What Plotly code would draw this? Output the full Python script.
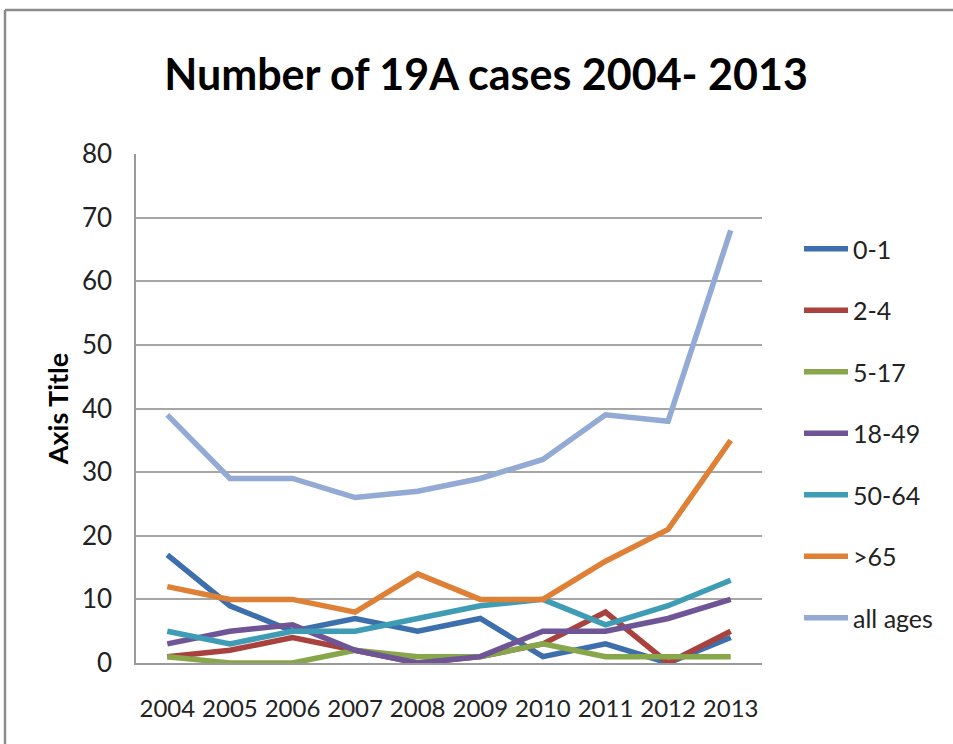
import plotly.graph_objects as go

# Case counts by age group, 2004-2013
years = ["2004", "2005", "2006", "2007", "2008", "2009", "2010", "2011", "2012", "2013"]
age_0_1 = [17, 9, 5, 7, 5, 7, 1, 3, 0, 4]
age_2_4 = [1, 2, 4, 2, 0, 1, 3, 8, 0, 5]
age_5_17 = [1, 0, 0, 2, 1, 1, 3, 1, 1, 1]
age_18_49 = [3, 5, 6, 2, 0, 1, 5, 5, 7, 10]
age_50_64 = [5, 3, 5, 5, 7, 9, 10, 6, 9, 13]
age_65_plus = [12, 10, 10, 8, 14, 10, 10, 16, 21, 35]
all_ages = [39, 29, 29, 26, 27, 29, 32, 39, 38, 68]

series_names = ["0-1", "2-4", "5-17", "18-49", "50-64", ">65", "all ages"]
series_values = [age_0_1, age_2_4, age_5_17, age_18_49, age_50_64, age_65_plus, all_ages]
series_colors = ["#3D6FAD", "#A9423E", "#88A64A", "#6F5596", "#3E9CB4", "#DE8136", "#93AAD4"]

FONT = "Lato, Roboto, sans-serif"

W, H = 953, 744
L, R, T, B = 136, 191, 154, 81
pw, ph = W - L - R, H - T - B

def px_x(px):
    return (px - L) / pw

def px_y(py):
    return (H - B - py) / ph

fig = go.Figure()
for i, (name, vals, col) in enumerate(zip(series_names, series_values, series_colors)):
    fig.add_trace(go.Scatter(
        x=years, y=vals, name=name, mode="lines",
        line=dict(color=col, width=5.5),
        legendgroup=f"g{i}",
    ))

fig.update_layout(
    width=W, height=H,
    margin=dict(l=L, r=R, t=T, b=B, pad=0),
    paper_bgcolor="white", plot_bgcolor="white",
    font=dict(family=FONT, color="#222222", size=25),
    title=dict(
        text="<b>Number of 19A cases 2004- 2013</b>",
        font=dict(family=FONT, size=43, color="black"),
        x=px_x(486), xref="paper", xanchor="center",
        y=1 - 75 / H, yref="container", yanchor="middle",
    ),
    xaxis=dict(
        type="category", range=[-0.5, 9.5],
        showgrid=False, showline=True, linecolor="#9a9a9a", linewidth=1.5,
        ticks="", tickangle=0, tickfont=dict(size=24, color="#222222"),
        ticklabelstandoff=23,
        fixedrange=True,
    ),
    yaxis=dict(
        range=[0, 80], dtick=10,
        showgrid=True, gridcolor="#a6a6a6", gridwidth=1.5,
        showline=True, linecolor="#9a9a9a", linewidth=1.5,
        zeroline=False, ticks="", ticklabelstandoff=17,
        tickfont=dict(size=26, color="#222222"),
        title=dict(text="<b>Axis Title</b>", font=dict(family=FONT, size=27, color="black"), standoff=5),
    ),
    legend=dict(
        x=px_x(799), xanchor="left",
        y=px_y(226), yanchor="top",
        tracegroupgap=26,
        font=dict(size=25, color="#222222"),
        bgcolor="rgba(0,0,0,0)",
        itemwidth=44,
    ),
    shapes=[
        dict(type="line", xref="paper", yref="paper",
             x0=px_x(5), x1=px_x(W + 5), y0=px_y(10), y1=px_y(10),
             line=dict(color="#8c8c8c", width=2.5)),
        dict(type="line", xref="paper", yref="paper",
             x0=px_x(5), x1=px_x(5), y0=px_y(10), y1=px_y(H + 5),
             line=dict(color="#8c8c8c", width=2.5)),
    ],
)

fig.write_html("out.html")
